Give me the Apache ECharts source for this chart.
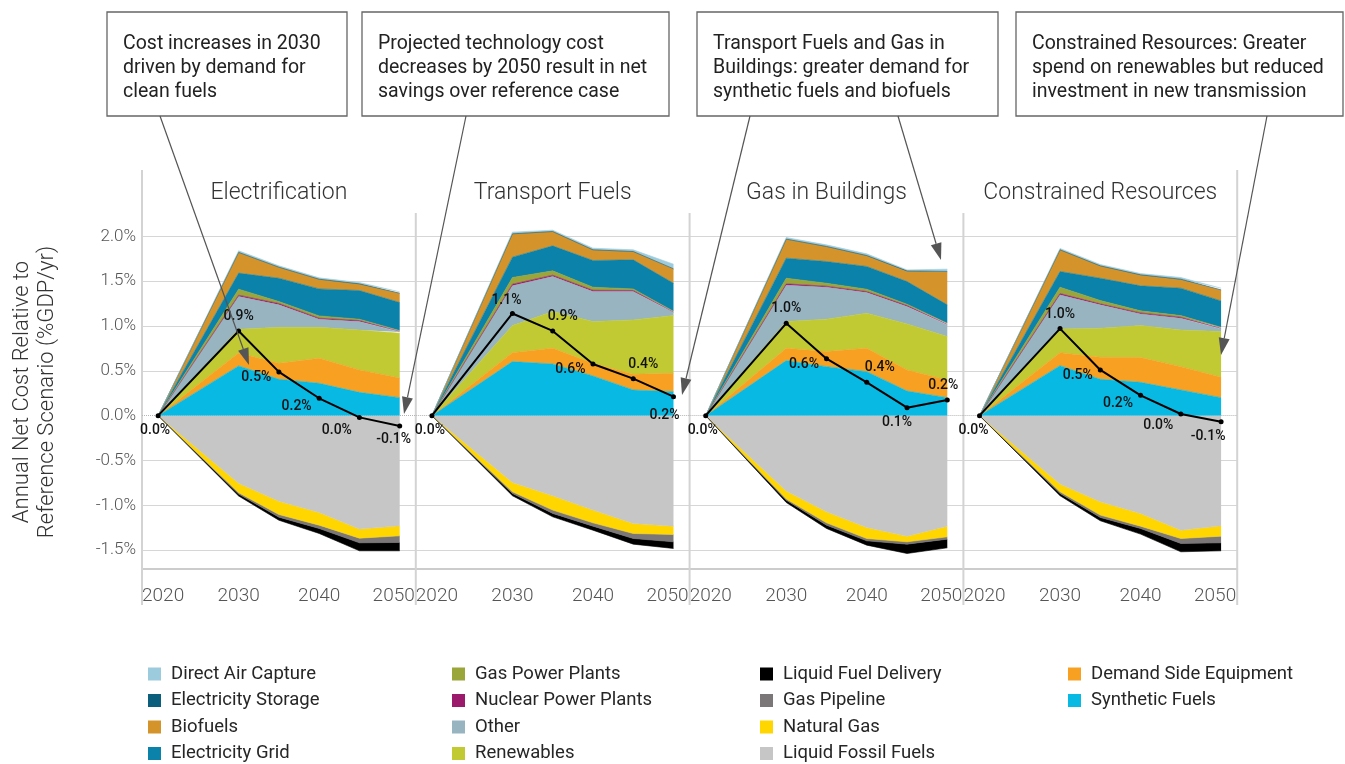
<!DOCTYPE html>
<html>
<head>
<meta charset="utf-8">
<title>Annual Net Cost Relative to Reference Scenario</title>
<script src="https://cdn.jsdelivr.net/npm/echarts@6.0.0/dist/echarts.min.js"></script>
<style>
  html, body { margin: 0; padding: 0; background: #fff; }
  #chart { width: 1345px; height: 764px; }
</style>
</head>
<body>
<div id="chart"></div>
<script>
var costChart = echarts.init(document.getElementById("chart"));

// ---- data (% of GDP per year), one row per scenario ----
var years = [2020, 2030, 2035, 2040, 2045, 2050];
var xTickYears = [2020, 2030, 2040, 2050];
var yTickValues = [-1.5, -1.0, -0.5, 0, 0.5, 1.0, 1.5, 2.0];
var scenarios = ['Electrification', 'Transport Fuels', 'Gas in Buildings', 'Constrained Resources'];

// positive side, bottom to top
var syntheticFuels = [
    [0, 0.555, 0.406, 0.361, 0.260, 0.201],
    [0, 0.603, 0.577, 0.443, 0.287, 0.268],
    [0, 0.614, 0.547, 0.491, 0.275, 0.201],
    [0, 0.558, 0.406, 0.372, 0.287, 0.201]
];
var demandSideEquipment = [
    [0, 0.145, 0.178, 0.279, 0.250, 0.219],
    [0, 0.100, 0.175, 0.141, 0.174, 0.205],
    [0, 0.138, 0.168, 0.261, 0.235, 0.197],
    [0, 0.145, 0.245, 0.276, 0.260, 0.227]
];
var renewables = [
    [0, 0.264, 0.402, 0.346, 0.446, 0.499],
    [0, 0.302, 0.409, 0.466, 0.607, 0.643],
    [0, 0.298, 0.361, 0.391, 0.513, 0.484],
    [0, 0.265, 0.324, 0.357, 0.409, 0.510]
];
var other = [
    [0, 0.365, 0.250, 0.090, 0.093, 0.015],
    [0, 0.443, 0.391, 0.334, 0.316, 0.034],
    [0, 0.405, 0.357, 0.230, 0.194, 0.130],
    [0, 0.379, 0.261, 0.130, 0.131, 0.030]
];
var nuclearPowerPlants = [
    [0, 0.015, 0.015, 0.011, 0.012, 0.008],
    [0, 0.018, 0.015, 0.015, 0.012, 0.007],
    [0, 0.015, 0.011, 0.011, 0.011, 0.008],
    [0, 0.015, 0.011, 0.011, 0.011, 0.007]
];
var gasPowerPlants = [
    [0, 0.067, 0.022, 0.026, 0.015, 0.007],
    [0, 0.075, 0.048, 0.034, 0.018, 0.008],
    [0, 0.063, 0.033, 0.026, 0.015, 0.011],
    [0, 0.071, 0.037, 0.023, 0.018, 0.011]
];
var electricityGrid = [
    [0, 0.179, 0.260, 0.301, 0.320, 0.313],
    [0, 0.227, 0.279, 0.298, 0.324, 0.312],
    [0, 0.224, 0.242, 0.254, 0.253, 0.205],
    [0, 0.175, 0.249, 0.279, 0.306, 0.294]
];
var biofuels = [
    [0, 0.228, 0.120, 0.105, 0.071, 0.101],
    [0, 0.257, 0.157, 0.116, 0.090, 0.158],
    [0, 0.209, 0.165, 0.118, 0.113, 0.366],
    [0, 0.239, 0.135, 0.119, 0.095, 0.118]
];
var electricityStorage = [
    [0, 0.003, 0.003, 0.003, 0.003, 0.003],
    [0, 0.003, 0.003, 0.003, 0.003, 0.003],
    [0, 0.003, 0.003, 0.004, 0.006, 0.006],
    [0, 0.003, 0.003, 0.004, 0.005, 0.005]
];
var directAirCapture = [
    [0, 0.018, 0.015, 0.015, 0.015, 0.015],
    [0, 0.019, 0.015, 0.018, 0.019, 0.052],
    [0, 0.018, 0.018, 0.019, 0.011, 0.026],
    [0, 0.015, 0.015, 0.014, 0.019, 0.019]
];

// negative side, from zero downward
var liquidFossilFuels = [
    [0, -0.755, -0.953, -1.079, -1.265, -1.228],
    [0, -0.744, -0.893, -1.053, -1.202, -1.232],
    [0, -0.841, -1.072, -1.247, -1.344, -1.232],
    [0, -0.763, -0.960, -1.090, -1.277, -1.228]
];
var naturalGas = [
    [0, -0.104, -0.149, -0.142, -0.101, -0.112],
    [0, -0.105, -0.160, -0.142, -0.112, -0.093],
    [0, -0.089, -0.123, -0.123, -0.063, -0.119],
    [0, -0.086, -0.149, -0.142, -0.093, -0.116]
];
var gasPipeline = [
    [0, -0.015, -0.030, -0.037, -0.052, -0.074],
    [0, -0.018, -0.037, -0.037, -0.056, -0.082],
    [0, -0.012, -0.026, -0.026, -0.026, -0.026],
    [0, -0.018, -0.026, -0.026, -0.055, -0.074]
];
var liquidFuelDelivery = [
    [0, -0.022, -0.034, -0.056, -0.089, -0.093],
    [0, -0.026, -0.038, -0.045, -0.063, -0.074],
    [0, -0.026, -0.037, -0.048, -0.104, -0.097],
    [0, -0.026, -0.037, -0.063, -0.093, -0.089]
];

// net cost line
var netCost = [
    [0, 0.945, 0.488, 0.194, -0.019, -0.115],
    [0, 1.140, 0.945, 0.577, 0.413, 0.212],
    [0, 1.030, 0.636, 0.372, 0.089, 0.175],
    [0, 0.971, 0.510, 0.227, 0.019, -0.067]
];

var calloutTexts = [
    'Cost increases in 2030\ndriven by demand for\nclean fuels',
    'Projected technology cost\ndecreases by 2050 result in net\nsavings over reference case',
    'Transport Fuels and Gas in\nBuildings: greater demand for\nsynthetic fuels and biofuels',
    'Constrained Resources: Greater\nspend on renewables but reduced\ninvestment in new transmission'
];

var legendColumns = [
    ['Direct Air Capture', 'Electricity Storage', 'Biofuels', 'Electricity Grid'],
    ['Gas Power Plants', 'Nuclear Power Plants', 'Other', 'Renewables'],
    ['Liquid Fuel Delivery', 'Gas Pipeline', 'Natural Gas', 'Liquid Fossil Fuels'],
    ['Demand Side Equipment', 'Synthetic Fuels']
];

// stacking order (first = next to zero)
var positiveLayers = [
    ['Synthetic Fuels', syntheticFuels],
    ['Demand Side Equipment', demandSideEquipment],
    ['Renewables', renewables],
    ['Other', other],
    ['Nuclear Power Plants', nuclearPowerPlants],
    ['Gas Power Plants', gasPowerPlants],
    ['Electricity Grid', electricityGrid],
    ['Biofuels', biofuels],
    ['Electricity Storage', electricityStorage],
    ['Direct Air Capture', directAirCapture]
];
var negativeLayers = [
    ['Liquid Fossil Fuels', liquidFossilFuels],
    ['Natural Gas', naturalGas],
    ['Gas Pipeline', gasPipeline],
    ['Liquid Fuel Delivery', liquidFuelDelivery]
];

// ---- styles / layout ----
var layerColors = {
    'Direct Air Capture': '#9ccbdd',
    'Electricity Storage': '#0b5e7c',
    'Biofuels': '#d4932b',
    'Electricity Grid': '#0a82a9',
    'Gas Power Plants': '#9aa53a',
    'Nuclear Power Plants': '#9c1a6b',
    'Other': '#97b4c0',
    'Renewables': '#c1ca32',
    'Liquid Fuel Delivery': '#000000',
    'Gas Pipeline': '#7b7778',
    'Natural Gas': '#ffd600',
    'Liquid Fossil Fuels': '#c6c6c6',
    'Demand Side Equipment': '#f7a022',
    'Synthetic Fuels': '#07b9e3'
};

var FONT = 'Roboto, "Noto Sans", sans-serif';
var gridLeft = 142, gridWidth = 273.8, gridTop = 170, gridHeight = 399;

// data label placement of the net line, per panel / per point
var netLabelPlace = [
    [['bottom', [-3, 0]], ['top', [0, 0]], ['left', [0, 6]], ['left', [0, 8]], ['left', [0, 13]], ['bottom', [-6, -1]]],
    [['bottom', [-2, 0]], ['top', [-6, 2]], ['top', [10, 0]], ['left', [0, 6]], ['top', [10, 0]], ['bottom', [-9, 4]]],
    [['bottom', [-3, 0]], ['top', [0, 0]], ['left', [0, 6]], ['top', [13, 0]], ['bottom', [-10, 0]], ['top', [-4, 0]]],
    [['bottom', [-6, 0]], ['top', [0, 0]], ['left', [0, 6]], ['left', [0, 8]], ['left', [0, 12]], ['bottom', [-13, 0]]]
];

var calloutBoxes = [
    { x: 107, y: 12, w: 240, h: 104 },
    { x: 362, y: 12, w: 307, h: 104 },
    { x: 697, y: 12, w: 301, h: 104 },
    { x: 1016, y: 12, w: 327, h: 104 }
];
// arrow start (box bottom) and tip
var calloutArrows = [
    [160, 116, 249, 365],
    [466, 116, 404, 414],
    [750, 116, 682, 395],
    [898, 116, 941, 260],
    [1267, 116, 1221, 355]
];

var Screen = {
    pct: function (v) {
        var s = v.toFixed(1);
        if (s === '-0.0') s = '0.0';
        return s + '%';
    },
    areaSeries: function (name, values, i, stackName) {
        var c = layerColors[name];
        return {
            name: name,
            type: 'line',
            xAxisIndex: i,
            yAxisIndex: i,
            stack: stackName + i,
            stackStrategy: 'all',
            // value first so that the stack runs on the y dimension
            encode: { x: 1, y: 0 },
            symbol: 'none',
            silent: true,
            z: 2,
            lineStyle: { width: 0.6, color: c },
            itemStyle: { color: c },
            areaStyle: { color: c, opacity: 1 },
            data: years.map(function (y, k) { return [values[i][k], y]; })
        };
    },
    netSeries: function (i) {
        var _this = this;
        return {
            name: 'Net Cost',
            type: 'line',
            xAxisIndex: i,
            yAxisIndex: i,
            z: 5,
            symbol: 'circle',
            symbolSize: 5,
            lineStyle: { color: '#000', width: 2 },
            itemStyle: { color: '#000' },
            label: {
                show: true,
                fontFamily: FONT,
                fontSize: 14,
                fontWeight: 500,
                color: '#111',
                formatter: function (p) { return _this.pct(p.value[1]); }
            },
            markLine: {
                silent: true,
                symbol: 'none',
                z: 1,
                label: { show: false },
                lineStyle: { type: 'dotted', color: '#b5b5b5', width: 1 },
                data: [{ yAxis: 0 }]
            },
            data: years.map(function (y, k) {
                var place = netLabelPlace[i][k];
                return {
                    value: [y, netCost[i][k]],
                    label: { position: place[0], offset: place[1] }
                };
            })
        };
    },
    graphics: function () {
        var els = [];
        // panel separators
        for (var i = 0; i <= scenarios.length; i++) {
            var x = gridLeft + i * gridWidth;
            var outer = (i === 0 || i === scenarios.length);
            els.push({
                type: 'line', z: 1, silent: true,
                shape: { x1: x, y1: outer ? 170 : 213, x2: x, y2: 605 },
                style: { stroke: '#d3d3d3', lineWidth: 2 }
            });
        }
        // y axis title
        els.push({
            type: 'text', z: 10, x: 35, y: 392, rotation: Math.PI / 2,
            style: {
                text: 'Annual Net Cost Relative to\nReference Scenario (%GDP/yr)',
                font: '300 22px ' + FONT, fill: '#333', align: 'center', verticalAlign: 'middle', lineHeight: 25
            }
        });
        // callout boxes
        calloutBoxes.forEach(function (b, k) {
            els.push({
                type: 'rect', z: 20,
                shape: { x: b.x, y: b.y, width: b.w, height: b.h },
                style: { fill: '#fff', stroke: '#666', lineWidth: 1.3 }
            });
            els.push({
                type: 'text', z: 21, x: b.x + 16, y: 32,
                style: { text: calloutTexts[k], font: '19.5px ' + FONT, fill: '#222', lineHeight: 24, verticalAlign: 'top' }
            });
        });
        // arrows
        calloutArrows.forEach(function (a) {
            var ang = Math.atan2(a[3] - a[1], a[2] - a[0]);
            var L = 17, W = 5.5;
            var bx = a[2] - L * Math.cos(ang), by = a[3] - L * Math.sin(ang);
            var px = -Math.sin(ang) * W, py = Math.cos(ang) * W;
            els.push({
                type: 'line', z: 30, silent: true,
                shape: { x1: a[0], y1: a[1], x2: bx, y2: by },
                style: { stroke: '#555', lineWidth: 1.2 }
            });
            els.push({
                type: 'polygon', z: 30, silent: true,
                shape: { points: [[a[2], a[3]], [bx + px, by + py], [bx - px, by - py]] },
                style: { fill: '#555' }
            });
        });
        return els;
    },
    buildOption: function () {
        var _this = this;
        var grids = [], xAxes = [], yAxes = [], titles = [], series = [];
        var splitValues = yTickValues.filter(function (v) { return v !== 0; });

        scenarios.forEach(function (name, i) {
            var left = gridLeft + i * gridWidth;
            grids.push({ left: left, top: gridTop, width: gridWidth, height: gridHeight });
            titles.push({
                text: name,
                left: left + gridWidth / 2,
                top: 182,
                textAlign: 'center',
                padding: 0,
                textStyle: { fontFamily: FONT, fontSize: 23, fontWeight: 300, color: '#333' }
            });
            xAxes.push({
                type: 'value',
                gridIndex: i,
                min: 2018,
                max: 2052,
                axisLine: { show: true, onZero: false, lineStyle: { color: '#cccccc', width: 2 } },
                axisTick: { show: false },
                splitLine: { show: false },
                axisLabel: {
                    customValues: xTickYears,
                    margin: 18,
                    fontFamily: FONT,
                    fontSize: 19,
                    fontWeight: 300,
                    color: '#555',
                    formatter: function (v) {
                        if (v === 2020) return '{first|' + v + '}';
                        if (v === 2050) return '{last|' + v + '}';
                        return String(v);
                    },
                    rich: {
                        first: { padding: [0, 0, 0, 10], fontFamily: FONT, fontSize: 19, fontWeight: 300, color: '#555' },
                        last: { padding: [0, 12, 0, 0], fontFamily: FONT, fontSize: 19, fontWeight: 300, color: '#555' }
                    }
                }
            });
            yAxes.push({
                type: 'value',
                gridIndex: i,
                min: -1.71,
                max: 2.74,
                axisLine: { show: false },
                axisTick: { show: false, customValues: splitValues },
                axisLabel: {
                    show: i === 0,
                    customValues: yTickValues,
                    margin: 6,
                    fontFamily: FONT,
                    fontSize: 17,
                    fontWeight: 300,
                    color: '#555',
                    formatter: function (v) { return v.toFixed(1) + '%'; }
                },
                splitLine: { show: true, lineStyle: { color: '#d6d6d6', width: 1 } }
            });

            positiveLayers.forEach(function (layer) {
                series.push(_this.areaSeries(layer[0], layer[1], i, 'pos'));
            });
            negativeLayers.forEach(function (layer) {
                series.push(_this.areaSeries(layer[0], layer[1], i, 'neg'));
            });
            series.push(_this.netSeries(i));
        });

        var legendLeft = [148, 452, 760, 1068];
        var legends = legendColumns.map(function (col, k) {
            return {
                orient: 'vertical',
                left: legendLeft[k],
                top: 664,
                padding: 0,
                itemGap: 6.5,
                itemWidth: 13,
                itemHeight: 13,
                icon: 'rect',
                selectedMode: false,
                itemStyle: { borderWidth: 0 },
                textStyle: { fontFamily: FONT, fontSize: 18.5, color: '#262626', lineHeight: 20, padding: [0, 0, 0, 5] },
                data: col
            };
        });

        return {
            backgroundColor: '#fff',
            animation: false,
            title: titles,
            grid: grids,
            xAxis: xAxes,
            yAxis: yAxes,
            legend: legends,
            series: series,
            graphic: { elements: this.graphics() }
        };
    },
    init: function () {
        costChart.setOption(this.buildOption());
    }
};

Screen.init();
</script>
</body>
</html>
